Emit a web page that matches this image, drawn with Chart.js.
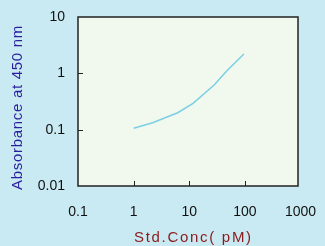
<!DOCTYPE html>
<html>
<head>
<meta charset="utf-8">
<script src="https://cdn.jsdelivr.net/npm/chart.js@4/dist/chart.umd.min.js"></script>
<style>
html,body{margin:0;padding:0;background:#c9eaf2;}
#wrap{width:325px;height:246px;position:relative;}
</style>
</head>
<body>
<div id="wrap"><canvas id="c" width="325" height="246"></canvas></div>
<script>
const concentrations = [1, 2.2, 6.2, 11.7, 28, 47, 96];
const absorbance = [0.106, 0.133, 0.20, 0.294, 0.62, 1.10, 2.2];
const xTickValues = [0.1, 1, 10, 100, 1000];
const yTickValues = [0.01, 0.1, 1, 10];
const xTitle = 'Std.Conc( pM)';
const yTitle = 'Absorbance at 450 nm';

const fmt = v => String(v);
const FONT = 'Liberation Sans, Arial, sans-serif';

const frame = {
  id: 'frame',
  beforeDraw(chart) {
    const {ctx, chartArea: a} = chart;
    ctx.save();
    ctx.fillStyle = '#f1f8ee';
    ctx.fillRect(a.left, a.top, a.right - a.left, a.bottom - a.top);
    ctx.restore();
  },
  afterDatasetsDraw(chart) {
    const {ctx, chartArea: a, scales} = chart;
    ctx.save();
    ctx.strokeStyle = '#222';
    ctx.lineWidth = 1.5;
    ctx.strokeRect(a.left, a.top, a.right - a.left, a.bottom - a.top);
    ctx.lineWidth = 1;
    ctx.beginPath();
    xTickValues.forEach(v => {
      const px = Math.round(scales.x.getPixelForValue(v)) + 0.5;
      if (px > a.left + 2 && px < a.right - 2) {
        ctx.moveTo(px, a.bottom);
        ctx.lineTo(px, a.bottom - 5);
      }
    });
    yTickValues.forEach(v => {
      const py = Math.round(scales.y.getPixelForValue(v)) + 0.5;
      if (py > a.top + 2 && py < a.bottom - 2) {
        ctx.moveTo(a.left, py);
        ctx.lineTo(a.left + 5, py);
      }
    });
    ctx.stroke();

    // axis titles
    ctx.font = '15px ' + FONT;
    ctx.textBaseline = 'alphabetic';
    ctx.textAlign = 'left';
    ctx.fillStyle = '#8b1a1a';
    ctx.letterSpacing = '1.7px';
    ctx.fillText(xTitle, 134, 241.5);
    ctx.fillStyle = '#2a1f9e';
    ctx.letterSpacing = '0.7px';
    ctx.translate(22, 190);
    ctx.rotate(-Math.PI / 2);
    ctx.fillText(yTitle, 0, 0);
    ctx.restore();
  }
};

new Chart(document.getElementById('c'), {
  type: 'line',
  data: {
    datasets: [{
      data: concentrations.map((x, i) => ({x, y: absorbance[i]})),
      borderColor: '#7ccfe5',
      borderWidth: 1.5,
      pointRadius: 0,
      tension: 0,
      fill: false
    }]
  },
  options: {
    responsive: false,
    animation: false,
    events: [],
    layout: {padding: {top: 17, right: 27, left: 0, bottom: 0}},
    plugins: {legend: {display: false}, tooltip: {enabled: false}},
    scales: {
      x: {
        type: 'logarithmic',
        min: 0.1, max: 900,
        afterBuildTicks(s) { s.ticks = xTickValues.map(v => ({value: v})); },
        afterFit(s) { s.height = 60; s.paddingLeft = 0; s.paddingRight = 0; },
        grid: {display: false, drawTicks: false},
        border: {display: false},
        ticks: {
          color: '#111',
          font: {family: FONT, size: 14},
          padding: 18,
          maxRotation: 0,
          autoSkip: false,
          callback: v => fmt(v)
        }
      },
      y: {
        type: 'logarithmic',
        min: 0.01, max: 10,
        afterBuildTicks(s) { s.ticks = yTickValues.map(v => ({value: v})); },
        afterFit(s) { s.width = 78; s.paddingTop = 0; s.paddingBottom = 0; },
        grid: {display: false, drawTicks: false},
        border: {display: false},
        ticks: {
          color: '#111',
          font: {family: FONT, size: 14},
          padding: 13,
          autoSkip: false,
          callback: v => fmt(v)
        }
      }
    }
  },
  plugins: [frame]
});
</script>
</body>
</html>
